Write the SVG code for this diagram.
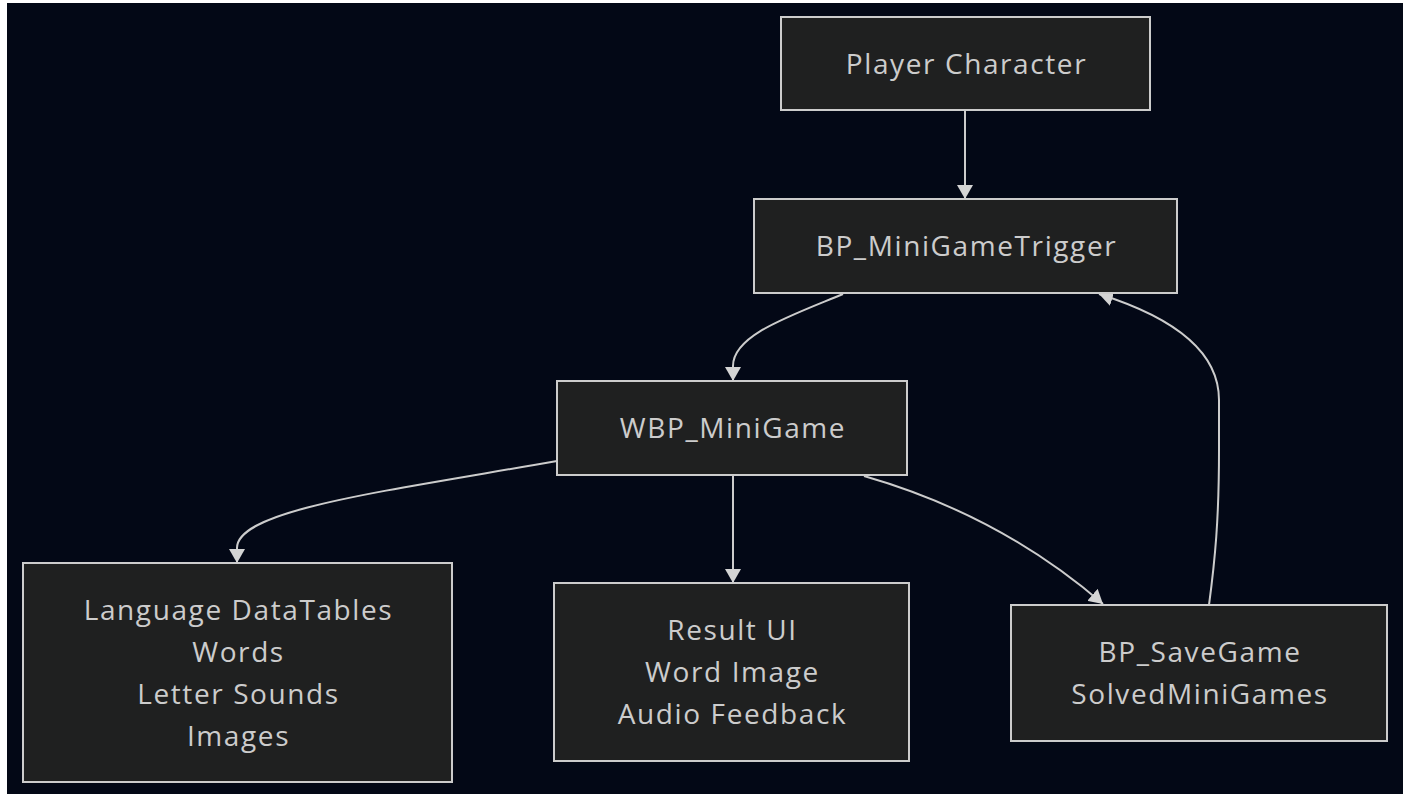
<svg xmlns="http://www.w3.org/2000/svg" width="1407" height="794" viewBox="0 0 1407 794">
  <style>
    .node rect { fill: #1f2020; stroke: #cccccc; stroke-width: 2; }
    .node text { fill: #cccccc; font-family: "Open Sans", "Noto Sans", "DejaVu Sans", sans-serif; font-size: 28px; letter-spacing: 1.6px; text-anchor: middle; }
    .edge { fill: none; stroke: #cccccc; stroke-width: 2; marker-end: url(#arrow); }
  </style>
  <defs>
    <marker id="arrow" viewBox="0 0 14 16" refX="14" refY="8" markerWidth="14" markerHeight="16" markerUnits="userSpaceOnUse" orient="auto">
      <path d="M0,0 L14,8 L0,16 z" fill="#d4d4d4"/>
    </marker>
  </defs>

  <!-- page -->
  <rect x="0" y="0" width="1407" height="794" fill="#ffffff"/>
  <rect x="7" y="3" width="1396" height="791" fill="#030816"/>

  <!-- connectors -->
  <g id="edges">
    <path class="edge" d="M965,110 L965,199"/>
    <path class="edge" d="M843,294 C790,316 733,335 733,366 L733,381"/>
    <path class="edge" d="M557,461 C380,492 237,510 237,548 L237,563"/>
    <path class="edge" d="M733,475 L733,583"/>
    <path class="edge" d="M864,476 Q1000,515 1103,604"/>
    <path class="edge" d="M1209,605 C1215,560 1219,520 1219,450 L1219,400 C1219,340 1150,310 1099,294"/>
  </g>

  <g id="player-character" class="node">
    <rect x="781" y="17" width="369" height="93"/>
    <text x="966.5" y="73.5">Player Character</text>
  </g>

  <g id="bp-minigame-trigger" class="node">
    <rect x="754" y="199" width="423" height="94"/>
    <text x="966.5" y="256">BP_MiniGameTrigger</text>
  </g>

  <g id="wbp-minigame" class="node">
    <rect x="557" y="381" width="350" height="94"/>
    <text x="733" y="438">WBP_MiniGame</text>
  </g>

  <g id="language-datatables" class="node">
    <rect x="23" y="563" width="429" height="219"/>
    <text x="238.5" y="619.5">Language DataTables</text>
    <text x="238.5" y="661.5">Words</text>
    <text x="238.5" y="703.5">Letter Sounds</text>
    <text x="238.5" y="745.5">Images</text>
  </g>

  <g id="result-ui" class="node">
    <rect x="554" y="583" width="355" height="178"/>
    <text x="732.5" y="640">Result UI</text>
    <text x="732.5" y="682">Word Image</text>
    <text x="732.5" y="724">Audio Feedback</text>
  </g>

  <g id="bp-savegame" class="node">
    <rect x="1011" y="605" width="376" height="136"/>
    <text x="1200" y="662">BP_SaveGame</text>
    <text x="1200" y="704">SolvedMiniGames</text>
  </g>
</svg>
